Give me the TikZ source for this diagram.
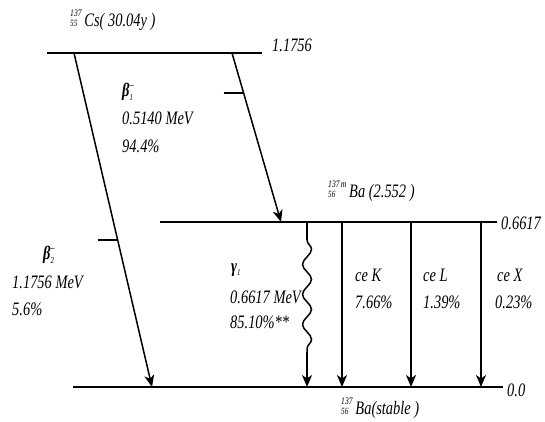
\documentclass[tikz,border=0pt]{standalone}
\usepackage{fontspec}
\usepackage{graphicx}
\setmainfont{Liberation Serif}
\usetikzlibrary{arrows.meta,decorations.pathmorphing,calc}
\newcommand\sq[1]{\scalebox{0.76}[1]{#1}}
\newsavebox\nucsup
\newsavebox\nucsub
\newlength\nucw
\newcommand\nuc[3]{\sbox\nucsup{\fontsize{10}{10}\selectfont #1}\sbox\nucsub{\fontsize{9.5}{9.5}\selectfont #2}%
  \setlength\nucw{\wd\nucsub}\ifdim\wd\nucsup>\nucw\setlength\nucw{\wd\nucsup}\fi
  \makebox[\nucw][l]{\makebox[0pt][l]{\raisebox{10pt}{\usebox\nucsup}}\usebox\nucsub}\hspace{0.2em}#3}
\newcommand\partsym[3]{\textbf{#1}\makebox[0pt][l]{\raisebox{8.5pt}{\fontsize{11}{11}\selectfont #2}}\raisebox{-3.5pt}{\fontsize{9}{9}\selectfont #3}}
\begin{document}
\begin{tikzpicture}[x=1pt,y=-1pt,
  levelline/.style={line width=2.6pt},
  decay/.style={line width=1.5pt,-{Stealth[length=12pt,width=10pt,inset=3.5pt]}},
  thickdecay/.style={line width=2.4pt,-{Stealth[length=12pt,width=10pt,inset=3.5pt]}},
  tick/.style={line width=2pt},
  lab/.style={anchor=west,inner sep=0pt,font=\itshape\fontsize{19}{21}\selectfont}]
\useasboundingbox (0,0) rectangle (545,421);
\fill[white] (0,0) rectangle (545,421);
% levels
\coordinate (csL) at (47,53);   \coordinate (csR) at (262,53);
\coordinate (bamL) at (160,222); \coordinate (bamR) at (497,222);
\coordinate (gL) at (73,387);   \coordinate (gR) at (503,387);
\draw[levelline] (csL) -- (csR);
\draw[levelline] (bamL) -- (bamR);
\draw[levelline] (gL) -- (gR);
% level labels
\node[lab] (cslab) at (70,20) {\sq{\nuc{137}{55}{Cs( 30.04y )}}};
\node[lab] (e1) at (272,45) {\sq{1.1756}};
\node[lab] (bamlab) at (328,191) {\sq{\nuc{137\,m}{56}{Ba (2.552 )}}};
\node[lab] (e2) at (501,223) {\sq{0.6617}};
\node[lab] (gslab) at (341,408) {\sq{\nuc{137}{56}{Ba(stable )}}};
\node[lab] (e3) at (507,390) {\sq{0.0}};
% beta 2
\coordinate (b2s) at (74,53); \coordinate (b2e) at (152,387);
\draw[decay] (b2s) -- (b2e);
\coordinate (b2t) at ($(b2s)!0.56!(b2e)$);
\draw[tick] ($(b2t)+(-20,0)$) -- (b2t);
% beta 1
\coordinate (b1s) at (232,53); \coordinate (b1e) at (281,222);
\draw[decay] (b1s) -- (b1e);
\coordinate (b1t) at ($(b1s)!0.237!(b1e)$);
\draw[tick] ($(b1t)+(-20,0)$) -- (b1t);
% gamma
\coordinate (gs) at (307,222); \coordinate (gm1) at (307,240); \coordinate (gm2) at (307,352); \coordinate (ge) at (307,387);
\draw[line width=1.5pt] (gs) -- (gm1);
\draw[line width=1.5pt,decorate,decoration={snake,segment length=30pt,amplitude=4.5pt}] (gm1) -- (gm2);
\draw[decay] (gm2) -- (ge);
% conversion electrons
\coordinate (ks) at (342,222); \coordinate (ke) at (342,387);
\coordinate (ls) at (411,222); \coordinate (le) at (411,387);
\coordinate (xs) at (481,222); \coordinate (xe) at (481,387);
\draw[decay] (ks) -- (ke);
\draw[thickdecay] (ls) -- (le);
\draw[decay] (xs) -- (xe);
% labels beta1
\node[lab] (b1a) at (122,92) {\sq{\partsym{β}{–}{1}}};
\node[lab] (b1b) at (122,118) {\sq{0.5140 MeV}};
\node[lab] (b1c) at (122,146) {\sq{94.4\%}};
% labels beta2
\node[lab] (b2a) at (43,255) {\sq{\partsym{β}{–}{2}}};
\node[lab] (b2b) at (12,282) {\sq{1.1756 MeV}};
\node[lab] (b2c) at (12,309) {\sq{5.6\%}};
% gamma labels
\node[lab] (ga) at (231,270) {\sq{\textbf{γ}\raisebox{-3.5pt}{\fontsize{9}{9}\selectfont 1}}};
\node[lab] (gb) at (230,297) {\sq{0.6617 MeV}};
\node[lab] (gc) at (230,322) {\sq{85.10\%**}};
% ce labels
\node[lab] (ka) at (355,275) {\sq{ce K}};
\node[lab] (kb) at (355,302) {\sq{7.66\%}};
\node[lab] (la) at (423,275) {\sq{ce L}};
\node[lab] (lb) at (423,302) {\sq{1.39\%}};
\node[lab] (xa) at (497,275) {\sq{ce X}};
\node[lab] (xb) at (495,302) {\sq{0.23\%}};
\end{tikzpicture}
\end{document}
